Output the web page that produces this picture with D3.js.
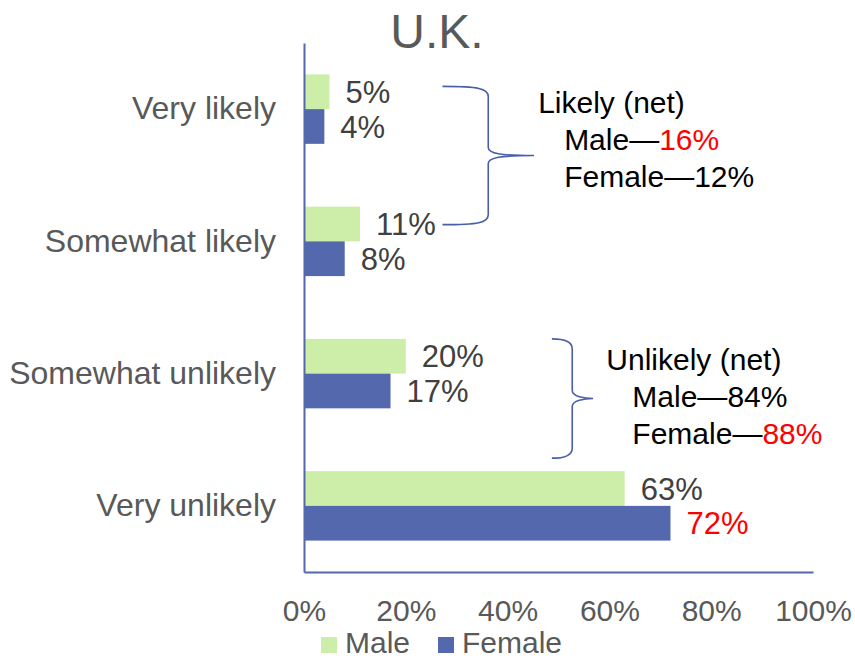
<!DOCTYPE html>
<html>
<head>
<meta charset="utf-8">
<script src="https://cdn.jsdelivr.net/npm/d3@7"></script>
<style>
  body { margin: 0; background: #fff; }
  svg { font-family: "Liberation Sans", Arial, sans-serif; }
  .axis .domain { stroke: #5567ad; stroke-width: 2; }
  .axis text { fill: #595959; }
</style>
</head>
<body>
<svg width="855" height="660"></svg>
<script>
// values
var categories = ["Very likely", "Somewhat likely", "Somewhat unlikely", "Very unlikely"];
var series = ["Male", "Female"];
var male = [5, 11, 20, 63];
var female = [4, 8, 17, 72];
var ticks = [0, 20, 40, 60, 80, 100];
// the one bar label printed in red
var redLabel = {series: "Female", category: "Very unlikely"};

// net boxes on the right
var netTitles = ["Likely (net)", "Unlikely (net)"];
var netMale = [16, 84];
var netFemale = [12, 88];
var netRed = ["Male", "Female"];   // which line has the red number

var colors = {Male: "#cdeea8", Female: "#5468ad"};

var svg = d3.select("svg");
var margin = {left: 304, top: 43, right: 42, bottom: 88};
var W = 855 - margin.left - margin.right,
    H = 660 - margin.top - margin.bottom;

var g = svg.append("g").attr("transform", "translate(" + margin.left + "," + margin.top + ")");

var x = d3.scaleLinear().domain([0, 100]).range([0, W]);
var y = d3.scaleBand().domain(categories).range([0, H])
    .paddingInner(0.475).paddingOuter(0.2375);
var ys = d3.scaleBand().domain(series).range([0, y.bandwidth()]);

var rows = [];
categories.forEach(function(c, i) {
  rows.push({category: c, series: "Male", value: male[i]});
  rows.push({category: c, series: "Female", value: female[i]});
});

// bars
g.selectAll("rect.bar")
  .data(rows)
  .enter().append("rect")
    .attr("class", "bar")
    .attr("x", x(0))
    .attr("y", function(d) { return y(d.category) + ys(d.series); })
    .attr("width", function(d) { return x(d.value) - x(0); })
    .attr("height", ys.bandwidth())
    .attr("fill", function(d) { return colors[d.series]; });

// value labels
g.selectAll("text.val")
  .data(rows)
  .enter().append("text")
    .attr("class", "val")
    .attr("x", function(d) { return x(d.value) + 16; })
    .attr("y", function(d) { return y(d.category) + ys(d.series) + ys.bandwidth() / 2; })
    .attr("dy", "0.36em")
    .style("font-size", "31px")
    .style("fill", function(d) {
      return (d.series == redLabel.series && d.category == redLabel.category) ? "#ff0000" : "#404040";
    })
    .text(function(d) { return d.value + "%"; });

// axes
g.append("g")
  .attr("class", "axis")
  .call(d3.axisLeft(y).tickSize(0).tickPadding(28))
  .selectAll("text").style("font-size", "32px");

g.append("g")
  .attr("class", "axis")
  .attr("transform", "translate(0," + H + ")")
  .call(d3.axisBottom(x).tickValues(ticks).tickSize(0).tickPadding(28)
        .tickFormat(function(d) { return d + "%"; }))
  .selectAll("text").style("font-size", "30px");

// title
svg.append("text")
  .attr("x", 437)
  .attr("y", 48)
  .attr("text-anchor", "middle")
  .style("font-size", "48px")
  .style("fill", "#595959")
  .text("U.K.");

// curly brace, opening to the left, tip pointing right
function brace(x0, xs, xt, y0, y1) {
  var ym = (y0 + y1) / 2;
  return "M" + x0 + "," + y0 +
    "C" + (xs - 10) + "," + y0 + " " + xs + "," + (y0 + 2) + " " + xs + "," + (y0 + 10) +
    "L" + xs + "," + (ym - 8) +
    "C" + xs + "," + (ym - 2) + " " + (xs + 12) + "," + ym + " " + xt + "," + ym +
    "C" + (xs + 12) + "," + ym + " " + xs + "," + (ym + 2) + " " + xs + "," + (ym + 8) +
    "L" + xs + "," + (y1 - 10) +
    "C" + xs + "," + (y1 - 2) + " " + (xs - 10) + "," + y1 + " " + x0 + "," + y1;
}

var braces = [
  {x0: x(27.2), xs: x(36.2), xt: x(45.2), y0: y(categories[0]) + 12, y1: y(categories[1]) + 18,
   tx: x(46.0), ty: y(categories[0]) + 39},
  {x0: x(48.7), xs: x(52.7), xt: x(56.8), y0: y(categories[2]), y1: y(categories[3]) - 13,
   tx: x(59.4), ty: y(categories[2]) + 31}
];

braces.forEach(function(b, i) {
  g.append("path")
    .attr("d", brace(b.x0, b.xs, b.xt, b.y0, b.y1))
    .attr("fill", "none")
    .attr("stroke", "#4a5fa8")
    .attr("stroke-width", 1.6);

  var t = g.append("text")
    .attr("x", b.tx)
    .attr("y", b.ty)
    .style("font-size", "30px")
    .style("fill", "#000");
  t.append("tspan").text(netTitles[i]);

  var lines = [["Male", netMale[i]], ["Female", netFemale[i]]];
  lines.forEach(function(l, j) {
    t.append("tspan")
      .attr("x", b.tx + 26)
      .attr("y", b.ty + 37 * (j + 1))
      .text(l[0] + "\u2014");
    t.append("tspan")
      .style("fill", netRed[i] == l[0] ? "#ff0000" : "#000")
      .text(l[1] + "%");
  });
});

// legend
var legend = svg.append("g").attr("transform", "translate(321,637)");
var legX = [0, 117];
series.forEach(function(s, i) {
  legend.append("rect")
    .attr("x", legX[i]).attr("y", 0)
    .attr("width", 16).attr("height", 16)
    .attr("fill", colors[s]);
  legend.append("text")
    .attr("x", legX[i] + 24).attr("y", 16)
    .style("font-size", "30px")
    .style("fill", "#595959")
    .text(s);
});
</script>
</body>
</html>
